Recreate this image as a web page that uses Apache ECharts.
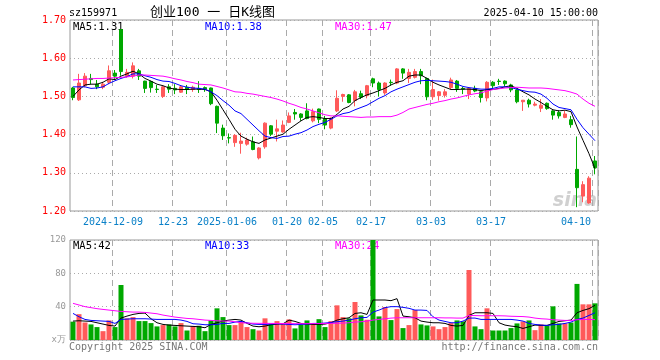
<!DOCTYPE html>
<html><head><meta charset="utf-8">
<script src="https://cdn.jsdelivr.net/npm/echarts@6/dist/echarts.min.js"></script>
<style>html,body{margin:0;padding:0;background:#fff}#c{width:660px;height:360px}</style>
</head><body><div id="c"></div>
<script>
const dates = ['2024-11-28','2024-11-29','2024-12-02','2024-12-03','2024-12-04','2024-12-05','2024-12-06','2024-12-09','2024-12-10','2024-12-11','2024-12-12','2024-12-13','2024-12-16','2024-12-17','2024-12-18','2024-12-19','2024-12-20','2024-12-23','2024-12-24','2024-12-25','2024-12-26','2024-12-27','2024-12-30','2024-12-31','2025-01-02','2025-01-03','2025-01-06','2025-01-07','2025-01-08','2025-01-09','2025-01-10','2025-01-13','2025-01-14','2025-01-15','2025-01-16','2025-01-17','2025-01-20','2025-01-21','2025-01-22','2025-01-23','2025-01-24','2025-01-27','2025-02-05','2025-02-06','2025-02-07','2025-02-10','2025-02-11','2025-02-12','2025-02-13','2025-02-14','2025-02-17','2025-02-18','2025-02-19','2025-02-20','2025-02-21','2025-02-24','2025-02-25','2025-02-26','2025-02-27','2025-02-28','2025-03-03','2025-03-04','2025-03-05','2025-03-06','2025-03-07','2025-03-10','2025-03-11','2025-03-12','2025-03-13','2025-03-14','2025-03-17','2025-03-18','2025-03-19','2025-03-20','2025-03-21','2025-03-24','2025-03-25','2025-03-26','2025-03-27','2025-03-28','2025-03-31','2025-04-01','2025-04-02','2025-04-03','2025-04-07','2025-04-08','2025-04-09','2025-04-10'];

const tickDates = ['2024-12-09','2024-12-23','2025-01-06','2025-01-20','2025-02-05','2025-02-17','2025-03-03','2025-03-17','2025-04-10'];
const tickLabels = ['2024-12-09','12-23','2025-01-06','01-20','02-05','02-17','03-03','03-17','04-10'];

const openP = [1.522,1.491,1.528,1.547,1.532,1.524,1.537,1.561,1.675,1.553,1.553,1.567,1.540,1.539,1.519,1.500,1.525,1.521,1.511,1.524,1.518,1.521,1.523,1.522,1.474,1.417,1.392,1.379,1.377,1.375,1.381,1.339,1.368,1.423,1.409,1.407,1.432,1.458,1.454,1.462,1.436,1.467,1.442,1.417,1.462,1.500,1.504,1.489,1.507,1.502,1.546,1.535,1.509,1.537,1.535,1.572,1.547,1.550,1.565,1.547,1.499,1.502,1.503,1.523,1.540,1.521,1.506,1.521,1.512,1.496,1.537,1.540,1.540,1.530,1.517,1.486,1.490,1.477,1.469,1.482,1.462,1.458,1.445,1.439,1.309,1.239,1.221,1.331];
const closeP = [1.497,1.535,1.553,1.544,1.525,1.532,1.567,1.553,1.565,1.563,1.580,1.553,1.521,1.523,1.518,1.525,1.519,1.517,1.525,1.518,1.524,1.518,1.519,1.481,1.430,1.397,1.391,1.398,1.383,1.386,1.361,1.365,1.430,1.401,1.415,1.425,1.449,1.454,1.445,1.442,1.460,1.440,1.425,1.443,1.495,1.505,1.484,1.512,1.498,1.528,1.535,1.518,1.535,1.536,1.572,1.561,1.563,1.565,1.554,1.499,1.518,1.512,1.512,1.543,1.521,1.519,1.521,1.514,1.497,1.537,1.528,1.539,1.533,1.517,1.486,1.490,1.480,1.480,1.477,1.468,1.451,1.449,1.454,1.426,1.261,1.269,1.286,1.313];
const lowP = [1.490,1.488,1.524,1.532,1.519,1.519,1.532,1.546,1.554,1.549,1.547,1.543,1.509,1.510,1.509,1.496,1.509,1.506,1.509,1.506,1.512,1.509,1.512,1.477,1.404,1.386,1.377,1.368,1.350,1.371,1.359,1.335,1.363,1.396,1.382,1.405,1.430,1.439,1.436,1.440,1.432,1.430,1.414,1.414,1.459,1.486,1.482,1.474,1.493,1.495,1.524,1.500,1.504,1.528,1.532,1.546,1.535,1.547,1.532,1.490,1.491,1.489,1.497,1.518,1.512,1.506,1.493,1.511,1.484,1.487,1.521,1.530,1.526,1.511,1.482,1.462,1.471,1.474,1.459,1.465,1.439,1.442,1.443,1.418,1.210,1.223,1.219,1.296];
const highP = [1.525,1.559,1.561,1.559,1.543,1.538,1.581,1.569,1.675,1.572,1.589,1.572,1.541,1.541,1.530,1.527,1.532,1.532,1.528,1.530,1.528,1.540,1.526,1.523,1.476,1.426,1.403,1.401,1.405,1.392,1.395,1.367,1.432,1.425,1.439,1.437,1.458,1.467,1.456,1.482,1.468,1.468,1.449,1.445,1.516,1.507,1.506,1.517,1.515,1.530,1.549,1.539,1.537,1.544,1.574,1.574,1.572,1.572,1.572,1.549,1.544,1.514,1.519,1.549,1.543,1.525,1.523,1.528,1.514,1.540,1.540,1.546,1.542,1.533,1.519,1.490,1.494,1.486,1.493,1.484,1.464,1.464,1.462,1.449,1.395,1.278,1.291,1.344];

const ma5 = [1.500,1.517,1.530,1.532,1.532,1.537,1.546,1.544,1.553,1.559,1.566,1.559,1.547,1.540,1.532,1.528,1.522,1.519,1.518,1.518,1.519,1.519,1.518,1.512,1.490,1.465,1.440,1.414,1.396,1.388,1.381,1.377,1.386,1.391,1.396,1.401,1.414,1.425,1.436,1.445,1.447,1.445,1.442,1.442,1.453,1.467,1.474,1.489,1.497,1.504,1.509,1.515,1.521,1.530,1.537,1.541,1.553,1.556,1.556,1.547,1.537,1.530,1.524,1.518,1.518,1.519,1.519,1.518,1.515,1.518,1.518,1.521,1.525,1.528,1.521,1.512,1.504,1.493,1.484,1.474,1.465,1.462,1.464,1.460,1.420,1.385,1.350,1.311];
const ma10 = [1.525,1.525,1.525,1.521,1.522,1.525,1.534,1.541,1.547,1.552,1.559,1.559,1.554,1.550,1.544,1.540,1.539,1.534,1.528,1.524,1.522,1.521,1.519,1.512,1.502,1.489,1.477,1.462,1.455,1.440,1.425,1.410,1.396,1.392,1.390,1.395,1.396,1.401,1.405,1.412,1.421,1.427,1.432,1.440,1.449,1.455,1.458,1.465,1.471,1.477,1.486,1.495,1.502,1.512,1.519,1.525,1.531,1.537,1.541,1.542,1.541,1.540,1.539,1.537,1.532,1.526,1.523,1.521,1.519,1.519,1.521,1.525,1.525,1.523,1.519,1.515,1.512,1.511,1.506,1.495,1.480,1.471,1.468,1.465,1.440,1.418,1.401,1.384];
const ma30 = [1.543,1.544,1.545,1.546,1.547,1.547,1.548,1.549,1.550,1.551,1.553,1.556,1.556,1.555,1.554,1.553,1.550,1.546,1.543,1.539,1.536,1.532,1.531,1.530,1.526,1.522,1.517,1.512,1.511,1.508,1.506,1.503,1.500,1.497,1.493,1.488,1.482,1.477,1.471,1.467,1.462,1.457,1.452,1.449,1.449,1.448,1.447,1.446,1.445,1.446,1.446,1.447,1.447,1.447,1.451,1.458,1.467,1.471,1.475,1.479,1.482,1.486,1.489,1.493,1.496,1.500,1.504,1.507,1.509,1.514,1.518,1.520,1.522,1.523,1.524,1.523,1.522,1.522,1.522,1.521,1.519,1.517,1.515,1.511,1.506,1.493,1.482,1.474];

const volume = [22,31,21,18.7,15.5,10.6,23.5,15.5,66,26,27.5,22.7,22.7,20.3,16.3,17.9,18.7,16.3,20.3,11.4,16.3,17.1,10.6,23.5,38,27.5,17.9,17.9,22,15.5,13,11.4,26,19.5,22.7,20.3,24.7,13.9,18.7,23.5,18.7,25,15.5,22.7,41.6,27.5,26,45.6,29.5,24.3,120,28.3,39.6,23.9,37.1,14.3,17.9,36,18.7,17.5,16.3,13,15.5,20.3,23.5,22.3,84,16.3,13,38,11.4,11.4,11.4,14.3,19.9,22.3,23.5,11.8,18.7,17.5,40.4,19.9,19.9,21,67.3,42.8,42.8,44];
const volMa5 = [22.7,23.1,22.7,22.3,20.7,19.1,17.5,16.7,26.3,28.7,30.7,31.9,32.3,25.5,20.7,18.7,17.9,17.5,17.1,16.7,16.3,15.9,14.7,18.7,20.7,22.7,23.9,24.7,23.9,19.9,16.7,15.9,16.7,18.3,19.1,19.5,23.9,22.3,19.9,19.1,18.7,18.7,19.1,20.7,23.9,25.5,26.7,31.9,32.7,30.7,48.0,48.0,48.0,47.2,49.6,28.7,27.9,26.7,22.7,21.5,20.7,20.7,19.9,17.5,16.7,17.5,29.5,32.7,32.7,32.7,31.9,20.7,17.9,16.7,15.9,13.9,15.9,17.9,17.5,17.5,19.9,22.3,23.1,23.9,32.7,35.5,37.6,41.6];
const volMa10 = [31.9,27.9,24.7,23.5,23.1,22.7,22.3,19.9,24.7,25.1,25.5,25.5,25.5,25.1,24.7,24.7,24.7,24.7,23.9,22.3,19.5,19.1,18.3,18.3,18.7,19.9,19.9,21.5,22.3,20.7,19.1,18.7,18.7,19.1,19.5,19.1,18.7,18.3,18.7,19.1,19.9,19.9,20.3,21.1,21.9,22.7,23.9,25.5,26.7,27.1,33.5,35.9,38.8,40.0,40.0,39.2,38.0,35.9,35.9,35.5,27.9,23.9,22.3,20.7,20.7,22.7,26.3,26.3,24.7,24.7,24.7,24.7,24.7,24.7,23.9,22.7,19.9,18.7,17.9,17.5,18.3,18.7,19.9,21.5,24.7,26.3,29.5,32.7];
const volMa30 = [44.0,42.0,40.0,38.8,37.6,36.7,35.9,35.1,34.3,33.9,33.5,33.5,33.1,32.3,31.5,29.9,28.7,27.5,26.7,25.9,25.5,24.7,23.9,23.5,23.1,22.7,22.7,21.9,20.7,20.3,20.1,20.0,20.0,19.9,19.9,19.8,19.7,19.6,19.6,19.6,19.7,19.7,19.9,20.0,20.1,20.3,20.7,21.5,21.9,22.7,23.9,24.7,25.5,26.3,26.7,26.7,26.7,26.7,26.7,26.7,26.7,26.7,26.5,26.5,26.3,26.3,29.5,29.3,29.1,29.1,29.1,29.1,28.9,28.5,28.3,28.1,27.5,26.3,25.5,25.1,24.3,23.9,23.5,23.5,24.3,24.7,24.7,24.4];

const UP = '#ff5a5a', DOWN = '#00a800';
const MONO = '"DejaVu Sans Mono", monospace';
const tickIdx = new Set(tickDates.map(d => dates.indexOf(d)));
const labelOf = {};
tickDates.forEach((d, i) => { labelOf[d] = tickLabels[i]; });

const kData = dates.map((d, i) => [openP[i], closeP[i], lowP[i], highP[i]]);
const volData = volume.map((v, i) => ({ value: v, itemStyle: { color: closeP[i] >= openP[i] ? UP : DOWN } }));

const last = a => a[a.length - 1];

const chart = echarts.init(document.getElementById('c'), null, { renderer: 'canvas' });
const xCommon = {
  type: 'category', data: dates, boundaryGap: true,
  axisLine: { show: false }, axisTick: { show: false },
  splitLine: { show: true, interval: (i) => tickIdx.has(i), lineStyle: { color: '#aaa', type: [6, 4], width: 1 } }
};
const lineS = (name, data, color, xi) => ({
  name, type: 'line', data, xAxisIndex: xi, yAxisIndex: xi, symbol: 'none', silent: true,
  lineStyle: { width: 1, color }, itemStyle: { color }, z: 5
});
chart.setOption({
  animation: false,
  grid: [
    { left: 70, right: 62, top: 20, height: 191, show: true, borderColor: '#999', borderWidth: 1 },
    { left: 70, right: 62, top: 240, height: 100, show: true, borderColor: '#999', borderWidth: 1 }
  ],
  xAxis: [
    Object.assign({}, xCommon, { gridIndex: 0,
      axisLabel: { show: true, interval: (i) => tickIdx.has(i), formatter: v => labelOf[v] || '',
        color: '#0a80c8', fontFamily: MONO, fontSize: 10, margin: 6, alignMaxLabel: 'right', padding: [0, 4, 0, 0] } }),
    Object.assign({}, xCommon, { gridIndex: 1, axisLabel: { show: false } })
  ],
  yAxis: [
    { type: 'value', gridIndex: 0, min: 1.2, max: 1.7, interval: 0.1, axisLine: { show: false }, axisTick: { show: false },
      axisLabel: { color: '#ff0000', fontFamily: MONO, fontSize: 10, margin: 4, formatter: v => v.toFixed(2) },
      splitLine: { lineStyle: { color: '#aaa', type: [1, 3] } } },
    { type: 'value', gridIndex: 1, min: 0, max: 120, interval: 40, axisLine: { show: false }, axisTick: { show: false },
      axisLabel: { color: '#999', fontFamily: MONO, fontSize: 9, margin: 4, formatter: v => v === 0 ? 'x万' : String(v) },
      splitLine: { lineStyle: { color: '#aaa', type: [1, 3] } } }
  ],
  series: [
    { type: 'candlestick', xAxisIndex: 0, yAxisIndex: 0, data: kData, barWidth: 4,
      itemStyle: { color: UP, color0: DOWN, borderColor: UP, borderColor0: DOWN, borderWidth: 1 } },
    lineS('MA5', ma5, '#000000', 0),
    lineS('MA10', ma10, '#0000ff', 0),
    lineS('MA30', ma30, '#ff00ff', 0),
    { type: 'bar', xAxisIndex: 1, yAxisIndex: 1, data: volData, barWidth: 5 },
    lineS('VMA5', volMa5, '#000000', 1),
    lineS('VMA10', volMa10, '#0000ff', 1),
    lineS('VMA30', volMa30, '#ff00ff', 1)
  ],
  graphic: [
    { type: 'text', style: { x: 69, y: 13, text: 'sz159971', font: '10px ' + MONO, fill: '#000', verticalAlign: 'middle' } },
    { type: 'text', style: { x: 150, y: 13, text: '创业100 一 日K线图', font: '13px "DejaVu Sans Mono", "Noto Sans CJK SC"', fill: '#000', verticalAlign: 'middle' } },
    { type: 'text', style: { x: 598, y: 13, text: '2025-04-10 15:00:00', font: '10px ' + MONO, fill: '#000', align: 'right', verticalAlign: 'middle' } },
    { type: 'text', style: { x: 73, y: 27, text: 'MA5:' + last(ma5).toFixed(2), font: '10.5px ' + MONO, fill: '#000', verticalAlign: 'middle' } },
    { type: 'text', style: { x: 205, y: 27, text: 'MA10:' + last(ma10).toFixed(2), font: '10.5px ' + MONO, fill: '#0000ff', verticalAlign: 'middle' } },
    { type: 'text', style: { x: 335, y: 27, text: 'MA30:' + last(ma30).toFixed(2), font: '10.5px ' + MONO, fill: '#ff00ff', verticalAlign: 'middle' } },
    { type: 'text', style: { x: 73, y: 246, text: 'MA5:' + Math.round(last(volMa5)), font: '10.5px ' + MONO, fill: '#000', verticalAlign: 'middle' } },
    { type: 'text', style: { x: 205, y: 246, text: 'MA10:' + Math.round(last(volMa10)), font: '10.5px ' + MONO, fill: '#0000ff', verticalAlign: 'middle' } },
    { type: 'text', style: { x: 335, y: 246, text: 'MA30:' + Math.round(last(volMa30)), font: '10.5px ' + MONO, fill: '#ff00ff', verticalAlign: 'middle' } },
    { type: 'text', style: { x: 69, y: 347, text: 'Copyright 2025 SINA.COM', font: '10px ' + MONO, fill: '#777', verticalAlign: 'middle' } },
    { type: 'text', style: { x: 598, y: 347, text: 'http://finance.sina.com.cn', font: '10px ' + MONO, fill: '#777', align: 'right', verticalAlign: 'middle' } },
    { type: 'text', z: -1, style: { x: 597, y: 201, text: 'sina', font: 'italic bold 19px "DejaVu Sans"', fill: 'rgba(170,170,170,0.55)', align: 'right', verticalAlign: 'middle' } }
  ]
});
</script></body></html>
